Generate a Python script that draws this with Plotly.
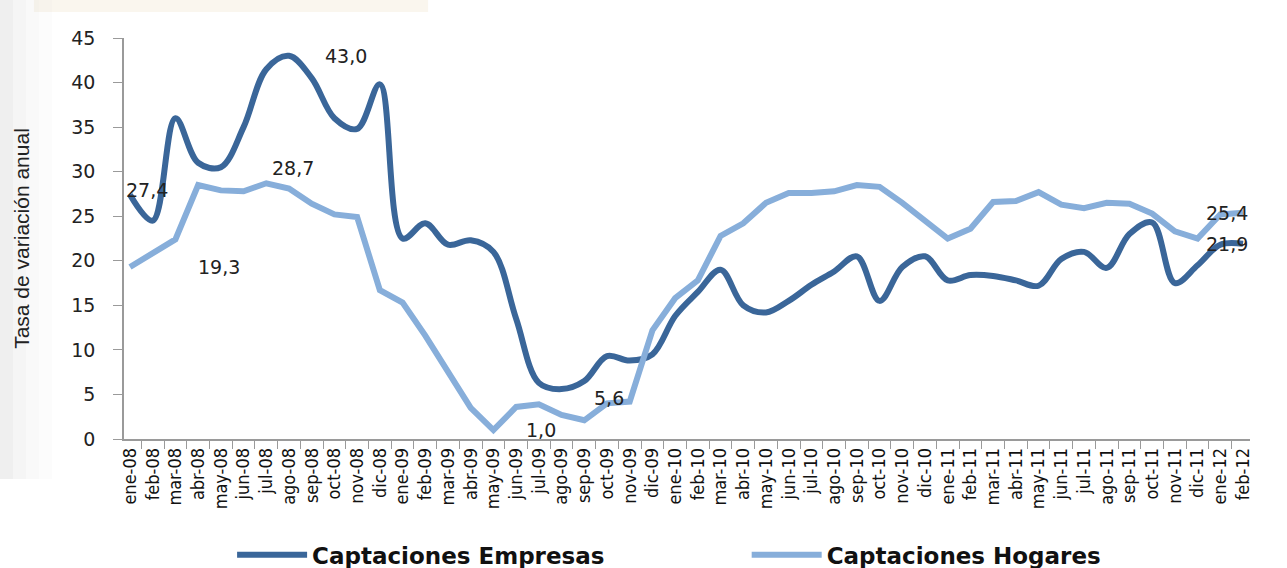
import plotly.graph_objects as go

meses = ["ene","feb","mar","abr","may","jun","jul","ago","sep","oct","nov","dic"]
categorias = []
for a in ["08","09","10","11"]:
    for m in meses:
        categorias.append(f"{m}-{a}")
categorias += ["ene-12","feb-12"]

empresas = [27.4, 24.5, 36.0, 31.0, 30.5, 35.0, 41.5, 43.0, 40.5, 36.0, 34.8, 39.8,
            22.5, 24.2, 21.8, 22.3, 21.0, 13.5, 6.3, 5.6, 6.5, 9.3, 8.8, 9.5,
            13.8, 16.5, 19.0, 15.0, 14.2, 15.5, 17.3, 18.8, 20.5, 15.5, 19.3, 20.5,
            17.8, 18.4, 18.3, 17.8, 17.2, 20.2, 21.0, 19.2, 23.0, 24.3, 17.5, 19.5,
            21.8, 21.9]

hogares = [19.3, 20.9, 22.4, 28.5, 27.9, 27.8, 28.7, 28.1, 26.4, 25.2, 24.9, 16.7,
           15.3, 11.6, 7.5, 3.5, 1.0, 3.6, 3.9, 2.7, 2.1, 4.0, 4.2, 12.2,
           15.8, 17.8, 22.8, 24.2, 26.5, 27.6, 27.6, 27.8, 28.5, 28.3, 26.5, 24.6,
           22.5, 23.6, 26.6, 26.7, 27.7, 26.3, 25.9, 26.5, 26.4, 25.3, 23.3, 22.5,
           25.2, 25.4]

# labels: (text, category, y value, xshift, yshift)
etiquetas = [
    ("27,4", "ene-08", 27.4, 17, 5),
    ("43,0", "ago-08", 43.0, 57, 0),
    ("28,7", "jul-08", 28.7, 27, 15),
    ("19,3", "ene-08", 19.3, 89, 0),
    ("1,0", "may-09", 1.0, 48, 0),
    ("5,6", "ago-09", 5.6, 47, -9),
    ("25,4", "feb-12", 25.4, -16, 0),
    ("21,9", "feb-12", 21.9, -16, 0),
]

fig = go.Figure()
fig.add_trace(go.Scatter(x=categorias, y=empresas, mode="lines", name="Captaciones Empresas",
                         legend="legend",
                         line=dict(color="#3A6699", width=6, shape="spline", smoothing=1)))
fig.add_trace(go.Scatter(x=categorias, y=hogares, mode="lines", name="Captaciones Hogares",
                         legend="legend2",
                         line=dict(color="#87AEDA", width=6)))

for t, c, v, dx, dy in etiquetas:
    fig.add_annotation(x=c, y=v, text=t, showarrow=False, xshift=dx, yshift=dy,
                       font=dict(family="DejaVu Sans", size=19, color="#222222"))

# faint decoration at the top-left like the source slide
fig.add_shape(type="rect", xref="paper", yref="paper", x0=-0.08, x1=0.27, y0=1.065, y1=1.1,
              fillcolor="rgba(240,228,205,0.35)", line_width=0, layer="below")
for i, op in enumerate([0.4, 0.26, 0.15, 0.07]):
    fig.add_shape(type="rect", xref="paper", yref="paper",
                  x0=(i * 13 - 124) / 1126, x1=((i + 1) * 13 - 124) / 1126,
                  y0=-0.1, y1=1.1, fillcolor=f"rgba(215,215,215,{op})", line_width=0, layer="below")

leg_font = dict(family="DejaVu Sans", size=23, color="#111111", weight="bold")
fig.update_layout(
    width=1287, height=568,
    margin=dict(l=124, r=37, t=38, b=129, autoexpand=False),
    plot_bgcolor="white", paper_bgcolor="white",
    showlegend=True,
    legend=dict(orientation="h", x=0.096, y=-0.289, xanchor="left", yanchor="middle",
                itemwidth=70, font=leg_font, bgcolor="rgba(0,0,0,0)"),
    legend2=dict(orientation="h", x=0.553, y=-0.289, xanchor="left", yanchor="middle",
                 itemwidth=70, font=leg_font, bgcolor="rgba(0,0,0,0)"),
    font=dict(family="DejaVu Sans", color="#222222"),
)

fig.update_xaxes(type="category", showline=True, linecolor="#9a9a9a", linewidth=1.5,
                 ticks="outside", tickson="boundaries", ticklen=8, tickcolor="#9a9a9a",
                 tickangle=-90, showgrid=False, zeroline=False,
                 tickfont=dict(family="Liberation Sans Narrow, DejaVu Sans Condensed, sans-serif",
                               size=18, color="#111111"))
fig.update_yaxes(range=[0, 45], dtick=5, showline=True, linecolor="#9a9a9a", linewidth=1.5,
                 ticks="outside", ticklen=9, tickcolor="#9a9a9a", showgrid=False, zeroline=False,
                 ticklabelstandoff=14,
                 tickfont=dict(family="DejaVu Sans", size=19, color="#222222"),
                 title=dict(text="Tasa de variación anual", standoff=36,
                            font=dict(family="Liberation Sans", size=21, color="#222222")))

fig.write_html("out.html", config={"displayModeBar": False},
               post_script="document.body.style.margin='0px';")
